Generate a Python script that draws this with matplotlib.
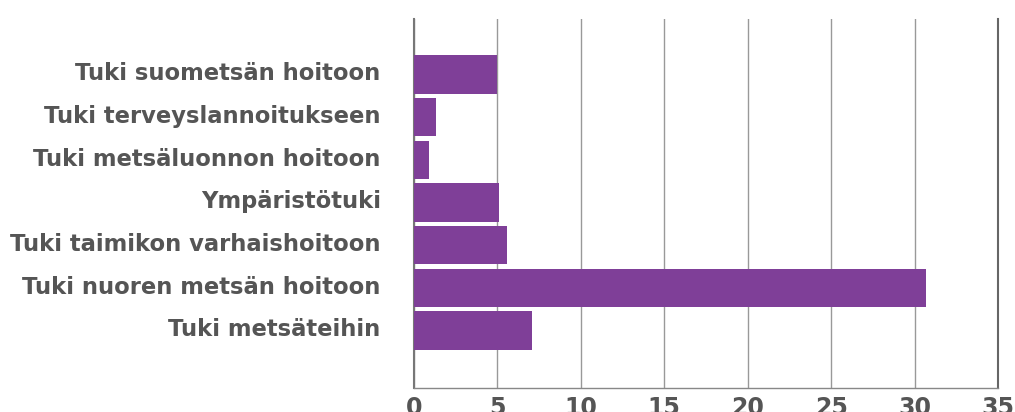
import numpy as np
import matplotlib.pyplot as plt
import matplotlib.transforms as mtransforms

categories = ['Tuki suometsän hoitoon', 'Tuki terveyslannoitukseen', 'Tuki metsäluonnon hoitoon',
              'Ympäristötuki', 'Tuki taimikon varhaishoitoon', 'Tuki nuoren metsän hoitoon',
              'Tuki metsäteihin']
values = [5.0, 1.3, 0.9, 5.1, 5.6, 30.7, 7.1]
xticks = [0, 5, 10, 15, 20, 25, 30, 35]

plt.rcParams['font.family'] = ['DejaVu Sans']

fig = plt.figure(figsize=(10.15, 4.12), dpi=100)
ax = fig.add_axes([414 / 1015, 1 - 388 / 412, 584 / 1015, 369 / 412])

y = np.arange(len(categories))
ax.barh(y, values, height=0.9, color='#7f3f98', zorder=3)
ax.set_ylim(len(categories) - 1 + 1.35, -1.3)
ax.set_xlim(0, 35)
ax.set_yticks(y)
ax.set_yticklabels(categories, fontsize=16.3, fontweight='bold', color='#555555')
ax.set_xticks(xticks)
ax.set_xticklabels([str(t) for t in xticks], fontsize=17, fontweight='bold', color='#555555')
ax.tick_params(axis='both', length=0)
ax.tick_params(axis='y', pad=24)
ax.tick_params(axis='x', pad=6)

# labels sit a little above the bar centres
shift = mtransforms.ScaledTranslation(0, 3 / 100, fig.dpi_scale_trans)
for lbl in ax.get_yticklabels():
    lbl.set_transform(lbl.get_transform() + shift)

ax.grid(axis='x', color='#999999', linewidth=1, zorder=0)
ax.spines['top'].set_visible(False)
ax.spines['right'].set_color('#666666')
ax.spines['right'].set_linewidth(1.5)
ax.spines['left'].set_color('#777777')
ax.spines['left'].set_linewidth(1.5)
ax.spines['bottom'].set_color('#888888')
ax.spines['bottom'].set_linewidth(1)

fig.savefig('out.png', dpi=100)
